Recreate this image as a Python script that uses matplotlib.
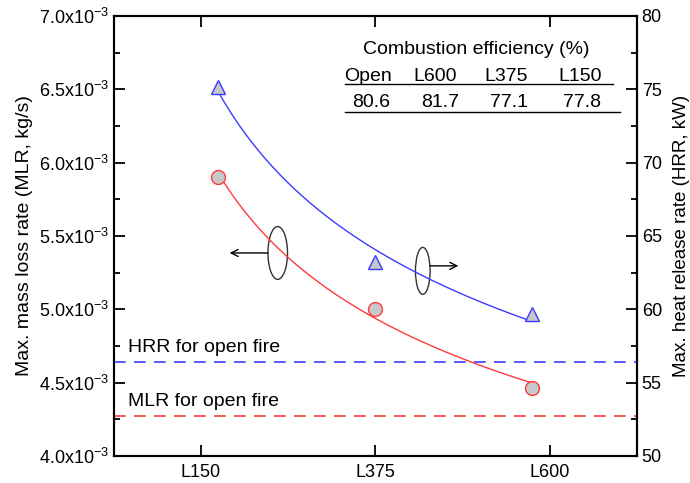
import numpy as np
import matplotlib
matplotlib.use("Agg")
import matplotlib.pyplot as plt
import matplotlib.ticker as mticker
from matplotlib.patches import Ellipse

plt.rcParams["font.family"] = ["Liberation Sans", "DejaVu Sans"]
plt.rcParams["mathtext.default"] = "regular"

# ── data ──────────────────────────────────────────────────────────────────────
tunnel_len   = np.array([150, 375, 600])          # opening length position
tick_pos     = [125, 375, 625]
tick_labels  = ["L150", "L375", "L600"]

mlr          = np.array([5.9e-3, 5.0e-3, 4.46e-3])  # kg/s
hrr          = np.array([75.15, 63.2, 59.7])        # kW
mlr_open     = 4.27e-3
hrr_open     = 56.4

eff_labels   = ["Open", "L600", "L375", "L150"]
eff_values   = ["80.6", "81.7", "77.1", "77.8"]

RED  = "#ff3b3b"
BLUE = "#3b3bff"
GREY = "#c8c8c8"


def power_fit(x, y, xs):
    b, a = np.polyfit(np.log(x), np.log(y), 1)
    return np.exp(a) * xs ** b


xs = np.linspace(tunnel_len[0], tunnel_len[-1], 200)

fig = plt.figure(figsize=(6.9, 4.83), dpi=100)
ax = fig.add_axes([0.165, 0.056, 0.758, 0.911])
ax2 = ax.twinx()

# MLR (left axis)
ax.plot(xs, power_fit(tunnel_len, mlr, xs), color=RED, lw=1)
ax.plot(tunnel_len, mlr, "o", ms=10, mfc=GREY, mec=RED, mew=1, zorder=5)
ax.axhline(mlr_open, color=RED, lw=1.2, ls=(0, (7, 5)))
ax.text(21, mlr_open + 0.04e-3, "MLR for open fire", fontsize=14, va="bottom")

# HRR (right axis)
ax2.plot(xs, power_fit(tunnel_len, hrr, xs), color=BLUE, lw=1)
ax2.plot(tunnel_len, hrr, "^", ms=10, mfc=GREY, mec=BLUE, mew=1, zorder=5)
ax2.axhline(hrr_open, color=BLUE, lw=1.2, ls=(0, (7, 5)))
ax2.text(21, hrr_open + 0.4, "HRR for open fire", fontsize=14, va="bottom")

# ellipse markers pointing at the matching axis
ax.add_patch(Ellipse((235, 5.384e-3), 28, 0.36e-3, fill=False, ec="#333333", lw=1))
ax.annotate("", xy=(166, 5.384e-3), xytext=(221, 5.384e-3),
            arrowprops=dict(arrowstyle="->,head_length=0.5,head_width=0.25",
                            color="k", lw=1, shrinkA=0, shrinkB=0))
ax.add_patch(Ellipse((443, 5.262e-3), 21, 0.32e-3, fill=False, ec="#333333", lw=1))
ax.annotate("", xy=(494, 5.296e-3), xytext=(453, 5.296e-3),
            arrowprops=dict(arrowstyle="->,head_length=0.5,head_width=0.25",
                            color="k", lw=1, shrinkA=0, shrinkB=0))

# axes setup
ax.set_xlim(0, 750)
ax.set_xticks(tick_pos)
ax.set_xticklabels(tick_labels)
ax.set_ylim(4.0e-3, 7.0e-3)
ax.yaxis.set_major_locator(mticker.MultipleLocator(0.5e-3))
ax.yaxis.set_minor_locator(mticker.MultipleLocator(0.25e-3))
ax.yaxis.set_major_formatter(
    mticker.FuncFormatter(lambda v, _: f"{v * 1e3:.1f}x10$^{{-3}}$"))
ax.set_ylabel("Max. mass loss rate (MLR, kg/s)", fontsize=14, labelpad=4)

ax2.set_ylim(50, 80)
ax2.yaxis.set_major_locator(mticker.MultipleLocator(5))
ax2.yaxis.set_minor_locator(mticker.MultipleLocator(2.5))
ax2.set_ylabel("Max. heat release rate (HRR, kW)", fontsize=13.5, labelpad=8)

ax.tick_params(axis="x", direction="in", length=8, width=1.3, top=True,
               labelsize=13, pad=6)
ax.tick_params(axis="y", which="major", direction="in", length=8, width=1.3,
               labelsize=13, right=False)
ax.tick_params(axis="y", which="minor", direction="in", length=4, width=1.3, right=False)
ax2.tick_params(axis="y", which="major", direction="in", length=8, width=1.3,
                labelsize=13)
ax2.tick_params(axis="y", which="minor", direction="in", length=4, width=1.3)
for a in (ax, ax2):
    for s in a.spines.values():
        s.set_linewidth(1.5)

# combustion efficiency table
tr = ax.transAxes
ax.text(0.692, 0.923, "Combustion efficiency (%)", transform=tr,
        ha="center", va="center", fontsize=14)
hdr_x = [0.486, 0.614, 0.750, 0.891]
val_x = [0.491, 0.623, 0.755, 0.896]
for xh, lab in zip(hdr_x, eff_labels):
    ax.text(xh, 0.862, lab, transform=tr, ha="center", va="center", fontsize=14)
for xv, val in zip(val_x, eff_values):
    ax.text(xv, 0.803, val, transform=tr, ha="center", va="center", fontsize=14)
ax.plot([0.442, 0.954], [0.845, 0.845], transform=tr, color="k", lw=1)
ax.plot([0.442, 0.967], [0.782, 0.782], transform=tr, color="k", lw=1)

fig.savefig("out.png", dpi=100)
